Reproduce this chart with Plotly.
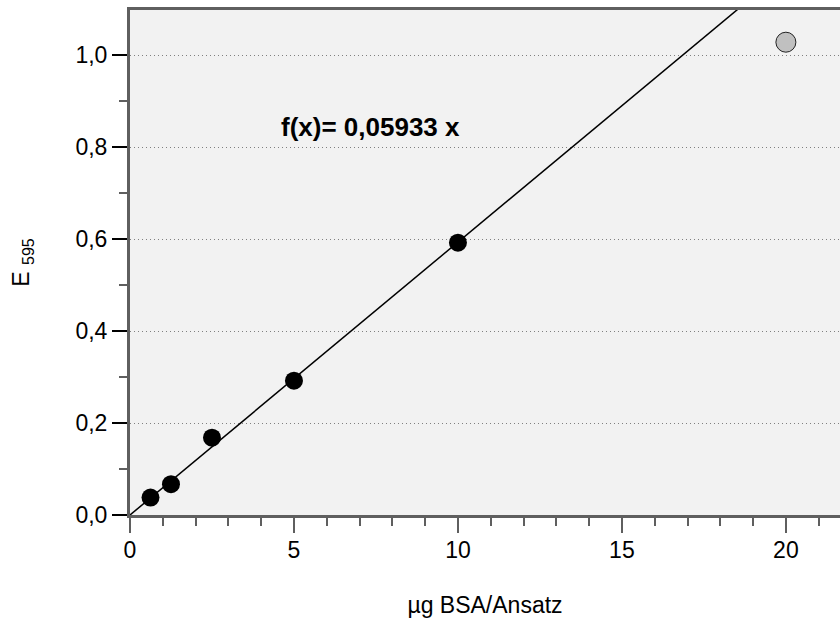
import plotly.graph_objects as go

# Data
bsa_ug = [0.625, 1.25, 2.5, 5, 10]
e595 = [0.038, 0.067, 0.168, 0.292, 0.592]
outlier_x = [20]
outlier_y = [1.028]
slope = 0.05933
x_range = [0, 21.65]
y_range = [0, 1.098]
x_ticks = [0, 5, 10, 15, 20]
y_ticks = [0.0, 0.2, 0.4, 0.6, 0.8, 1.0]

FONT = "Liberation Sans, Arial, sans-serif"
AXIS_COL = "#5f5f5f"

fig = go.Figure()

fit_x = [x_range[0], x_range[1]]
fit_y = [slope * v for v in fit_x]
fig.add_trace(go.Scatter(x=fit_x, y=fit_y, mode="lines",
                         line=dict(color="black", width=1.5),
                         showlegend=False, hoverinfo="skip"))

fig.add_trace(go.Scatter(x=bsa_ug, y=e595, mode="markers",
                         marker=dict(color="black", size=18),
                         showlegend=False, cliponaxis=False))

fig.add_trace(go.Scatter(x=outlier_x, y=outlier_y, mode="markers",
                         marker=dict(color="#c0c0c0", size=20,
                                     line=dict(color="#222222", width=1)),
                         showlegend=False))

fig.add_annotation(x=4.55, y=0.843, xref="x", yref="y",
                   text="<b>f(x)= 0,05933 x</b>", showarrow=False,
                   xanchor="left", yanchor="middle",
                   font=dict(family=FONT, size=26, color="black"))

fig.update_layout(
    width=840, height=625,
    margin=dict(l=130, r=0, t=10, b=110),
    paper_bgcolor="white",
    plot_bgcolor="#f2f2f2",
    separators=",.",
    font=dict(family=FONT, size=23, color="black"),
    xaxis=dict(
        range=x_range, tickvals=x_ticks, showgrid=False, zeroline=False,
        showline=True, linecolor=AXIS_COL, linewidth=3, mirror=True,
        ticks="outside", ticklen=15, tickcolor=AXIS_COL, tickwidth=1.5,
        tickfont=dict(family=FONT, size=23), ticklabelstandoff=-3,
        minor=dict(dtick=1, ticks="outside", ticklen=8, tickcolor=AXIS_COL,
                   tickwidth=1.5, showgrid=False),
        title=dict(text="µg BSA/Ansatz", font=dict(family=FONT, size=23),
                   standoff=36),
    ),
    yaxis=dict(
        range=y_range, tickvals=y_ticks, tickformat=".1f",
        showgrid=True, gridcolor="#808080", griddash="1px,3px", gridwidth=1,
        zeroline=False,
        showline=True, linecolor=AXIS_COL, linewidth=3,
        ticks="outside", ticklen=15, tickcolor="black", tickwidth=1.5,
        tickfont=dict(family=FONT, size=23),
        minor=dict(dtick=0.1, ticks="outside", ticklen=8, tickcolor=AXIS_COL,
                   tickwidth=1.5, showgrid=False),
        title=dict(text="E <sub>595</sub>", font=dict(family=FONT, size=23),
                   standoff=40),
    ),
)

fig.write_html("out.html", config={"displayModeBar": False},
               post_script="document.body.style.margin='0';document.body.style.overflow='hidden';")
